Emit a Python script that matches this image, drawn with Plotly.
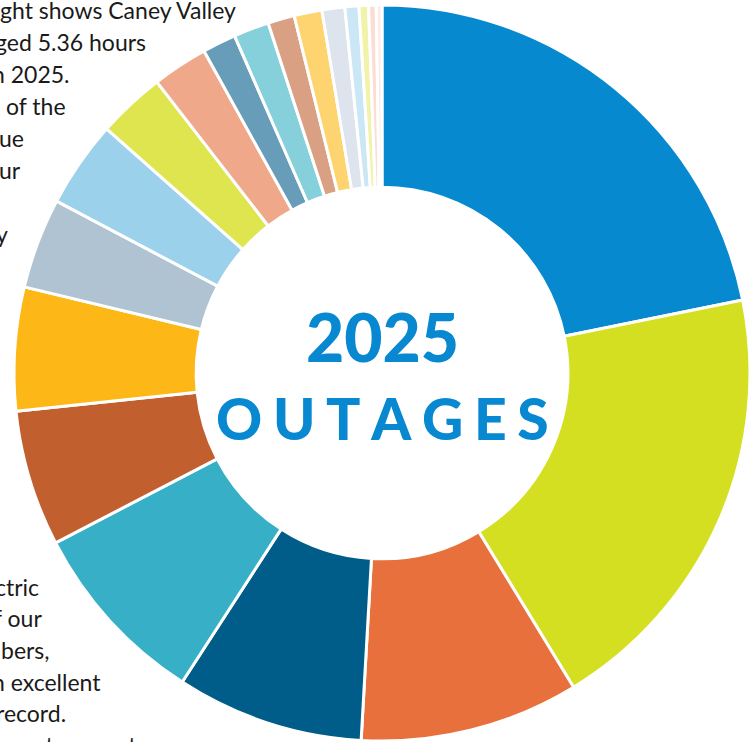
import plotly.graph_objects as go

W, H = 755, 742

# Slice shares (read as degrees of the ring, clockwise from 12 o'clock)
slice_values = [78.5, 70.0, 34.6, 29.6, 29.6, 21.5, 19.5, 14.3, 13.7, 10.7,
                8.8, 5.3, 5.6, 4.2, 4.4, 3.6, 2.2, 1.5, 1.2, 0.9]
slice_colors = ["#0789D0", "#D5DF21", "#E8703D", "#005C88", "#37B0C7", "#C25F2F",
                "#FDB818", "#B0C3D2", "#9BD1EB", "#DEE54E", "#F0A88B", "#679DB8",
                "#86D0DC", "#D9A083", "#FDD46F", "#DDE4EE", "#CBE7F6", "#F0F3A8",
                "#FBDDD3", "#FCEAE4"]
slice_labels = [f"s{i+1}" for i in range(len(slice_values))]

center_title = ["2025", "OUTAGES"]

top_text = ["ght shows Caney Valley", "ged 5.36 hours", "n 2025.", "of the",
            "ue", "our", "y"]
top_text_y = [10, 42, 74, 106, 138, 170, 234]
top_text_right = [238, 148, 72, 68, 26, 23, 10]

bottom_text = ["ctric", "f our", "bers,", "n excellent", "record.", "nnot guarantee"]
bottom_text_y = [587, 618, 650, 682, 713, 745]
bottom_text_right = [41, 44, 52, 103, 68, 163]

cx, cy, R = 382, 373, 368

fig = go.Figure(go.Pie(
    labels=slice_labels,
    values=slice_values,
    marker=dict(colors=slice_colors, line=dict(color="white", width=3)),
    hole=0.505,
    sort=False,
    direction="clockwise",
    rotation=0,
    textinfo="none",
    hoverinfo="skip",
    showlegend=False,
    domain=dict(x=[(cx - R) / W, (cx + R) / W], y=[(H - cy - R) / H, (H - cy + R) / H]),
))

ann = []
for t, yy, xr in zip(top_text + bottom_text, top_text_y + bottom_text_y,
                     top_text_right + bottom_text_right):
    ann.append(dict(text=t, x=xr / W, y=1 - yy / H, xref="paper", yref="paper",
                    xanchor="right", yanchor="middle", showarrow=False,
                    font=dict(family="Lato", size=23, color="#1A1A1A")))

ann.append(dict(text=center_title[0], x=383 / W, y=1 - 336 / H, xref="paper", yref="paper",
                xanchor="center", yanchor="middle", showarrow=False,
                font=dict(family="Lato", size=66, color="#0788D0", weight=900)))
spaced = "\u2009\u200A".join(list(center_title[1]))
ann.append(dict(text=spaced, x=382 / W, y=1 - 418 / H, xref="paper", yref="paper",
                xanchor="center", yanchor="middle", showarrow=False,
                font=dict(family="Lato", size=57, color="#0788D0", weight=900)))

fig.update_layout(width=W, height=H, margin=dict(l=0, r=0, t=0, b=0),
                  paper_bgcolor="white", plot_bgcolor="white", annotations=ann)

fig.write_html("out.html", config={"displayModeBar": False},
               post_script="document.body.style.margin='0';")
